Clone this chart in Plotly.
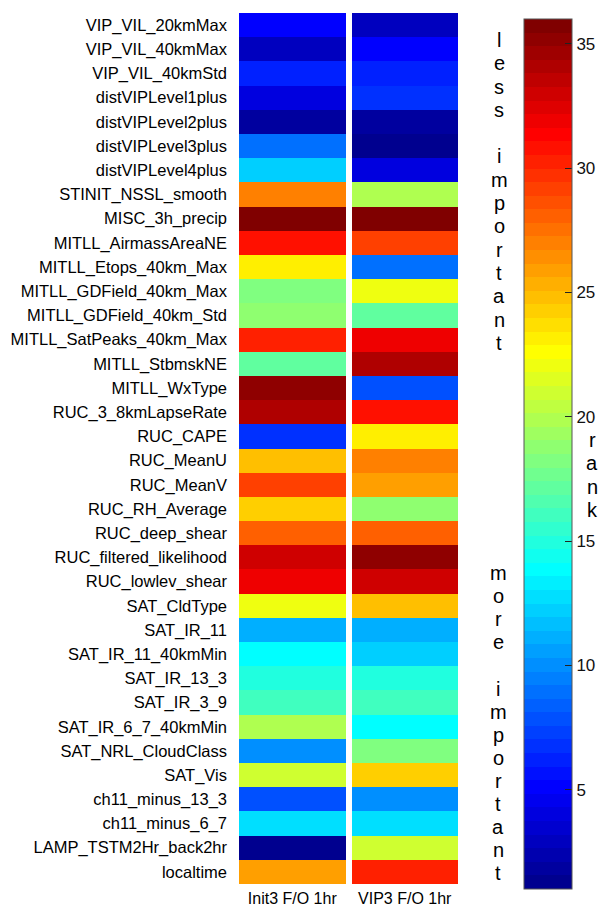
import plotly.graph_objects as go

features = [
    "VIP_VIL_20kmMax", "VIP_VIL_40kmMax", "VIP_VIL_40kmStd", "distVIPLevel1plus",
    "distVIPLevel2plus", "distVIPLevel3plus", "distVIPLevel4plus", "STINIT_NSSL_smooth",
    "MISC_3h_precip", "MITLL_AirmassAreaNE", "MITLL_Etops_40km_Max", "MITLL_GDField_40km_Max",
    "MITLL_GDField_40km_Std", "MITLL_SatPeaks_40km_Max", "MITLL_StbmskNE", "MITLL_WxType",
    "RUC_3_8kmLapseRate", "RUC_CAPE", "RUC_MeanU", "RUC_MeanV", "RUC_RH_Average",
    "RUC_deep_shear", "RUC_filtered_likelihood", "RUC_lowlev_shear", "SAT_CldType",
    "SAT_IR_11", "SAT_IR_11_40kmMin", "SAT_IR_13_3", "SAT_IR_3_9", "SAT_IR_6_7_40kmMin",
    "SAT_NRL_CloudClass", "SAT_Vis", "ch11_minus_13_3", "ch11_minus_6_7",
    "LAMP_TSTM2Hr_back2hr", "localtime",
]
columns = ["Init3 F/O 1hr", "VIP3 F/O 1hr"]
init3_rank = [5, 3, 6, 4, 2, 9, 12, 27, 36, 31, 23, 18, 19, 30, 17, 35, 34, 7, 25, 29, 24,
              28, 33, 32, 22, 11, 14, 15, 16, 20, 10, 21, 8, 13, 1, 26]
vip3_rank = [3, 5, 6, 7, 2, 1, 4, 20, 36, 29, 9, 22, 17, 32, 34, 8, 31, 23, 27, 26, 19,
             28, 35, 33, 25, 11, 12, 15, 16, 14, 18, 24, 10, 13, 21, 30]
cbar_ticks = [5, 10, 15, 20, 25, 30, 35]


def matlab_jet(m=64):
    n = -(-m // 4)
    u = [i / n for i in range(1, n + 1)] + [1.0] * (n - 1) + [i / n for i in range(n, 0, -1)]
    g0 = -(-n // 2) - (1 if m % 4 == 1 else 0)
    J = [[0.0, 0.0, 0.0] for _ in range(m)]
    for k, val in enumerate(u, start=1):
        g = g0 + k
        r = g + n
        b = g - n
        if 1 <= r <= m:
            J[r - 1][0] = val
        if 1 <= g <= m:
            J[g - 1][1] = val
        if 1 <= b <= m:
            J[b - 1][2] = val
    return J


jet = matlab_jet(64)
colorscale = []
for i, (r, g, b) in enumerate(jet):
    c = f"rgb({round(r*255)},{round(g*255)},{round(b*255)})"
    colorscale.append([i / 64, c])
    colorscale.append([(i + 1) / 64, c])

z = [[a, b] for a, b in zip(init3_rank, vip3_rank)]

# page body has an 8px margin; work in window pixels and subtract it
OFF = 8
W, H = 611 - OFF, 905 - OFF
mt, mb = 13 - OFF, 21


def px(wx):
    return (wx - OFF) / W


def py(wy):
    ph = H - mt - mb
    return (H - mb - (wy - OFF)) / ph


font_main = "Liberation Sans, Arial, sans-serif"

fig = go.Figure(go.Heatmap(
    z=z, x=columns, y=features,
    colorscale=colorscale, zmin=1, zmax=36,
    xgap=6,
    colorbar=dict(
        x=px(524), xanchor="left", xpad=0,
        y=py(19), yanchor="top", ypad=0,
        lenmode="pixels", len=870,
        thickness=48, thicknessmode="pixels",
        outlinewidth=1, outlinecolor="#555",
        tickvals=cbar_ticks, ticks="inside", ticklen=7, tickcolor="#222",
        tickfont=dict(family=font_main, size=17, color="#111"),
    ),
    hoverinfo="skip",
))

fig.update_layout(
    width=W, height=H,
    margin=dict(l=0, r=0, t=mt, b=mb),
    paper_bgcolor="white", plot_bgcolor="white",
    xaxis=dict(domain=[px(236), px(461)], showgrid=False, zeroline=False, ticks="",
               tickfont=dict(family=font_main, size=16, color="#000"),
               automargin=False, ticklabelstandoff=3),
    yaxis=dict(autorange="reversed", showgrid=False, zeroline=False, ticks="",
               tickfont=dict(family=font_main, size=16.5, color="#000"),
               automargin=False, ticklabelstandoff=8),
)

annotations = []


def vertical_text(text, xpix, first_mid, step):
    for i, ch in enumerate(text):
        if ch == " ":
            continue
        annotations.append(dict(
            x=px(xpix), y=py(first_mid + i * step), xref="paper", yref="paper",
            text=ch, showarrow=False, xanchor="center", yanchor="middle",
            font=dict(family=font_main, size=20, color="#000"),
        ))


vertical_text("less important", 499, 40, 23.3)
vertical_text("more important", 498, 573, 23.1)
vertical_text("rank", 592, 440, 23.3)
fig.update_layout(annotations=annotations)

fig.write_html("out.html")
